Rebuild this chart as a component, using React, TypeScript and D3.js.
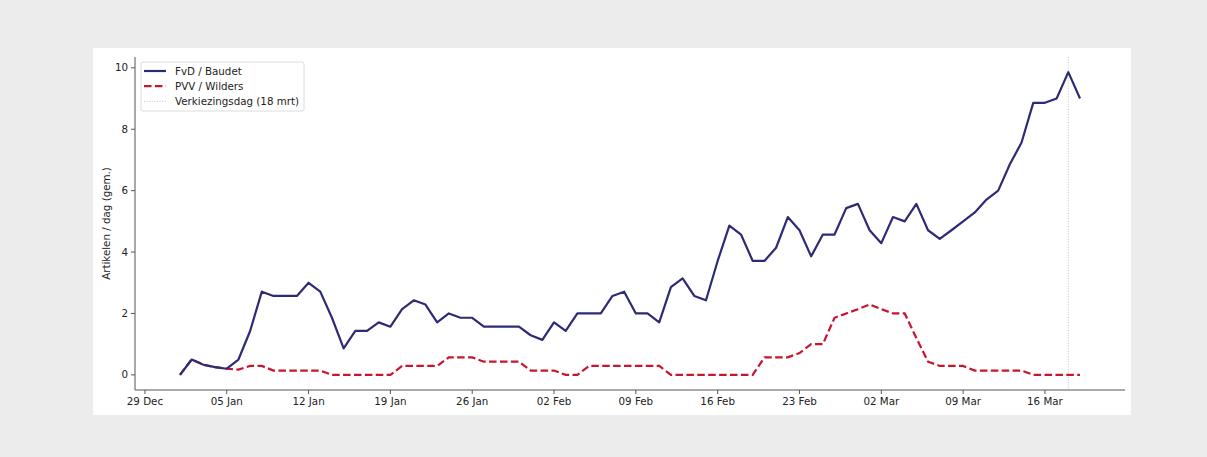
import React from "react";
import * as d3 from "d3";

const startDate = "2026-01-01";
const electionDate = "2026-03-18";
const fvd = [
  0, 0.5, 0.33, 0.25, 0.2, 0.5, 1.43, 2.71, 2.57, 2.57, 2.57, 3.0, 2.71, 1.86, 0.86, 1.43,
  1.43, 1.71, 1.57, 2.14, 2.43, 2.29, 1.71, 2.0, 1.86, 1.86, 1.57, 1.57, 1.57, 1.57, 1.29,
  1.14, 1.71, 1.43, 2.0, 2.0, 2.0, 2.57, 2.71, 2.0, 2.0, 1.71, 2.86, 3.14, 2.57, 2.43, 3.71,
  4.86, 4.57, 3.71, 3.71, 4.14, 5.14, 4.71, 3.86, 4.57, 4.57, 5.43, 5.57,
  4.71, 4.29, 5.14, 5.0, 5.57, 4.71, 4.43, 4.71, 5.0, 5.29, 5.71, 6.0, 6.86, 7.57, 8.86,
  8.86, 9.0, 9.86, 9.0,
];
const pvv = [
  0, 0.5, 0.33, 0.25, 0.2, 0.17, 0.29, 0.29, 0.14, 0.14, 0.14, 0.14, 0.14, 0, 0, 0, 0, 0,
  0, 0.29, 0.29, 0.29, 0.29, 0.57, 0.57, 0.57, 0.43, 0.43, 0.43, 0.43, 0.14,
  0.14, 0.14, 0, 0, 0.29, 0.29, 0.29, 0.29, 0.29, 0.29, 0.29, 0, 0, 0, 0, 0, 0, 0, 0,
  0.57, 0.57, 0.57, 0.71, 1.0, 1.0, 1.86, 2.0, 2.14,
  2.29, 2.14, 2.0, 2.0, 1.2, 0.43, 0.29, 0.29, 0.29, 0.14, 0.14, 0.14, 0.14, 0.14, 0,
  0, 0, 0, 0,
];
const yTicks = [0, 2, 4, 6, 8, 10];
const xTickDates = [
  "2025-12-29", "2026-01-05", "2026-01-12", "2026-01-19", "2026-01-26", "2026-02-02",
  "2026-02-09", "2026-02-16", "2026-02-23", "2026-03-02", "2026-03-09", "2026-03-16",
];
const seriesNames = ["FvD / Baudet", "PVV / Wilders", "Verkiezingsdag (18 mrt)"];
const yLabel = "Artikelen / dag (gem.)";
const monthNl = ["Jan", "Feb", "Mar", "Apr", "May", "Jun", "Jul", "Aug", "Sep", "Oct", "Nov", "Dec"];

const W = 1207;
const H = 457;
const plot = { left: 135, right: 1125, top: 57, bottom: 390 };
const BLUE = "#2e2b76";
const RED = "#c8142f";
const FONT = "DejaVu Sans, sans-serif";
const FS = 10.3;

const parse = (s: string) => {
  const [y, m, d] = s.split("-").map(Number);
  return Date.UTC(y, m - 1, d);
};
const DAY = 86400000;

export default function App() {
  const t0 = parse(startDate);
  const dates = fvd.map((_, i) => t0 + i * DAY);
  const tMin = dates[0];
  const tMax = dates[dates.length - 1];
  const xm = (tMax - tMin) * 0.05;
  const x = d3.scaleLinear().domain([tMin - xm, tMax + xm]).range([plot.left, plot.right]);
  const allV = [...fvd, ...pvv];
  const vMin = d3.min(allV) as number;
  const vMax = d3.max(allV) as number;
  const ym = (vMax - vMin) * 0.05;
  const y = d3.scaleLinear().domain([vMin - ym, vMax + ym]).range([plot.bottom, plot.top]);

  const line = d3
    .line<number>()
    .x((_, i) => x(dates[i]))
    .y((v) => y(v));

  const fmt = (t: number) => {
    const d = new Date(t);
    return `${String(d.getUTCDate()).padStart(2, "0")} ${monthNl[d.getUTCMonth()]}`;
  };
  const ex = x(parse(electionDate));

  const legX = 141;
  const legY = 62;
  return (
    <div style={{ position: "fixed", left: 0, top: 0, width: W, height: H }}>
      <svg width={W} height={H} style={{ display: "block" }} fontFamily={FONT}>
        <rect x={0} y={0} width={W} height={H} fill="#ececec" />
        <rect x={93} y={48} width={1038} height={367} fill="#ffffff" />
        {/* election line */}
        <line x1={ex} x2={ex} y1={plot.top} y2={plot.bottom} stroke="#c4c4c4" strokeWidth={1} strokeDasharray="1,1.6" />
        <path d={line(pvv) || ""} fill="none" stroke={RED} strokeWidth={2.2} strokeDasharray="7.5,3.4" />
        <path d={line(fvd) || ""} fill="none" stroke={BLUE} strokeWidth={2.2} strokeLinejoin="round" />
        {/* axes */}
        <line x1={plot.left} x2={plot.left} y1={plot.top} y2={plot.bottom} stroke="#555" strokeWidth={1} />
        <line x1={plot.left} x2={plot.right} y1={plot.bottom} y2={plot.bottom} stroke="#555" strokeWidth={1} />
        {yTicks.map((v) => (
          <g key={v}>
            <line x1={plot.left - 4} x2={plot.left} y1={y(v)} y2={y(v)} stroke="#555" />
            <text x={plot.left - 7} y={y(v)} dy="0.35em" textAnchor="end" fontSize={FS} fill="#222">
              {v}
            </text>
          </g>
        ))}
        {xTickDates.map((s) => {
          const t = parse(s);
          return (
            <g key={s}>
              <line x1={x(t)} x2={x(t)} y1={plot.bottom} y2={plot.bottom + 4} stroke="#555" />
              <text x={x(t)} y={plot.bottom + 15} textAnchor="middle" fontSize={FS} fill="#222">
                {fmt(t)}
              </text>
            </g>
          );
        })}
        <text
          transform={`translate(110,${(plot.top + plot.bottom) / 2}) rotate(-90)`}
          textAnchor="middle"
          fontSize={FS}
          fill="#222"
        >
          {yLabel}
        </text>
        {/* legend */}
        <rect x={legX} y={legY} width={163} height={49} rx={2} fill="#fff" fillOpacity={0.85} stroke="#dcdcdc" />
        {seriesNames.map((n, i) => {
          const cy = legY + 9 + i * 15.2;
          return (
            <g key={n}>
              <line
                x1={legX + 3}
                x2={legX + 25}
                y1={cy}
                y2={cy}
                stroke={i === 0 ? BLUE : i === 1 ? RED : "#c4c4c4"}
                strokeWidth={i === 2 ? 1 : 2.2}
                strokeDasharray={i === 1 ? "7.5,3.4" : i === 2 ? "1,1.6" : undefined}
              />
              <text x={legX + 34} y={cy} dy="0.35em" fontSize={FS} fill="#222">
                {n}
              </text>
            </g>
          );
        })}
      </svg>
    </div>
  );
}
